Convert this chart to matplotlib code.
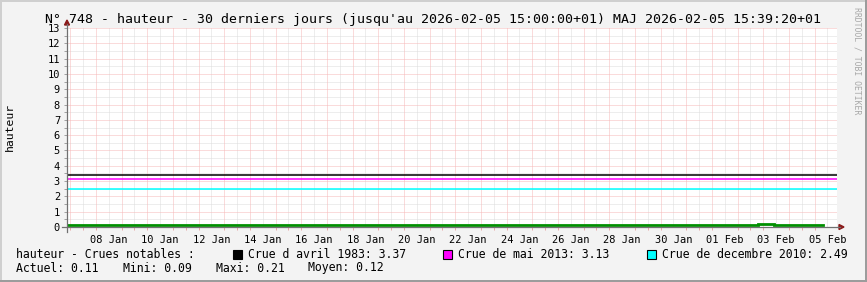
import matplotlib
matplotlib.use("Agg")
import matplotlib.pyplot as plt
import matplotlib.dates as mdates
from matplotlib.patches import Rectangle, Polygon
from matplotlib.lines import Line2D
import numpy as np
import pandas as pd

# ---------------- data ----------------
title = "N° 748 - hauteur - 30 derniers jours (jusqu'au 2026-02-05 15:00:00+01) MAJ 2026-02-05 15:39:20+01"
x_start = "2026-01-06 09:00"
x_end = "2026-02-05 09:00"

hauteur_times = ["2026-01-06 09:00", "2026-01-21 02:00", "2026-01-27 22:40",
                 "2026-01-28 04:10", "2026-01-28 06:20", "2026-01-28 10:10",
                 "2026-02-02 02:45", "2026-02-02 07:20", "2026-02-02 22:30",
                 "2026-02-04 12:00"]
hauteur_values = [0.13, 0.10, 0.12, 0.10, 0.12, 0.10, 0.15, 0.21, 0.12, 0.11]
hauteur_end = "2026-02-04 19:50"

crue_names = ["Crue d avril 1983", "Crue de mai 2013", "Crue de decembre 2010"]
crue_values = [3.37, 3.13, 2.49]
crue_colors = ["#000000", "#FF00FF", "#00FFFF"]

stats_names = ["Actuel", "Mini", "Maxi", "Moyen"]
stats_values = [0.11, 0.09, 0.21, 0.12]

tick_dates = ["2026-01-08", "2026-01-10", "2026-01-12", "2026-01-14", "2026-01-16",
              "2026-01-18", "2026-01-20", "2026-01-22", "2026-01-24", "2026-01-26",
              "2026-01-28", "2026-01-30", "2026-02-01", "2026-02-03", "2026-02-05"]
tick_labels = ["08 Jan", "10 Jan", "12 Jan", "14 Jan", "16 Jan", "18 Jan", "20 Jan",
               "22 Jan", "24 Jan", "26 Jan", "28 Jan", "30 Jan", "01 Feb", "03 Feb", "05 Feb"]
y_max = 13

# ---------------- layout ----------------
W, H = 867, 282
MONO = "DejaVu Sans Mono"
plt.rcParams["font.family"] = [MONO, "DejaVu Sans"]

fig = plt.figure(figsize=(W / 100, H / 100), dpi=100, facecolor="#F3F3F3")
L, R, T, B = 67, 837, 28, 227


def fx(x):
    return x / W


def fy(y):
    return 1 - y / H


ax = fig.add_axes([fx(L), fy(B), (R - L) / W, (B - T) / H])
ax.set_facecolor("white")
for s in ax.spines.values():
    s.set_visible(False)

xs = pd.Timestamp(x_start)
xe = pd.Timestamp(x_end)
ax.set_xlim(xs, xe)
ax.set_ylim(0, y_max)

# grid
dot = (0, (1, 1))
RED_GRID = "#F7B8B8"
GREY_GRID = "#DCDCDC"
for d in pd.date_range(xs.floor("12h"), xe, freq="12h"):
    if d < xs or d > xe:
        continue
    if d.hour == 12:
        ax.axvline(d, color=RED_GRID, lw=0.72, ls=dot, zorder=1.5)
    else:
        ax.axvline(d, color=GREY_GRID, lw=0.72, ls=dot, zorder=1)
for v in np.arange(0.5, y_max + 0.01, 0.5):
    if float(v).is_integer():
        ax.axhline(v, color=RED_GRID, lw=0.72, ls=dot, zorder=1.5)
    else:
        ax.axhline(v, color=GREY_GRID, lw=0.72, ls=dot, zorder=1)

# threshold lines
for val, col in zip(crue_values, crue_colors):
    ax.axhline(val, color=col, lw=1.1, zorder=3)

# data
t = pd.to_datetime(hauteur_times + [hauteur_end])
v = hauteur_values + [hauteur_values[-1]]
ax.step(t, v, where="post", color="#008F00", lw=2.0, zorder=4, solid_joinstyle="miter")

# ticks
ax.set_xticks(pd.to_datetime(tick_dates))
ax.set_xticklabels(tick_labels)
ax.xaxis.set_minor_locator(mdates.HourLocator(byhour=[0, 12]))
ax.tick_params(axis="x", which="major", length=0, pad=6, labelsize=7.5, colors="#000000")
ax.tick_params(axis="x", which="minor", length=2, width=0.7, color="#E8A8A8")
ax.set_yticks(range(0, y_max + 1))
ax.set_yticks(np.arange(0.5, y_max, 1.0), minor=True)
ax.tick_params(axis="y", which="major", length=2, width=0.7, color="#A0A0A0", pad=3, labelsize=7.5)
ax.tick_params(axis="y", which="minor", length=2, width=0.7, color="#A0A0A0")

# axes lines with arrows
fig.add_artist(Line2D([fx(62), fx(840)], [fy(227), fy(227)], color="#707070", lw=0.9))
fig.add_artist(Line2D([fx(67), fx(67)], [fy(232), fy(24)], color="#707070", lw=0.9))
fig.add_artist(Polygon([(fx(839), fy(224.5)), (fx(839), fy(229.5)), (fx(844), fy(227))],
                       closed=True, color="#8B1A1A", transform=fig.transFigure))
fig.add_artist(Polygon([(fx(64.5), fy(25)), (fx(69.5), fy(25)), (fx(67), fy(20))],
                       closed=True, color="#8B1A1A", transform=fig.transFigure))

# texts
fig.text(fx(433), fy(19), title, ha="center", va="center", fontsize=9.5, family=MONO)
fig.text(fx(10), fy(127), "hauteur", rotation=90, ha="center", va="center", fontsize=8.2, family=MONO)
fig.text(fx(857), fy(61), "RRDTOOL / TOBI OETIKER", rotation=270, ha="center", va="center",
         fontsize=5.9, color="#A8A8A8", family=MONO)

# legend row 1
fig.text(fx(16), fy(254), "hauteur - Crues notables :", ha="left", va="center", fontsize=8.3, family=MONO)
sq_x = [233, 443, 647]
for xpos, name, val, col in zip(sq_x, crue_names, crue_values, crue_colors):
    fig.add_artist(Rectangle((fx(xpos), fy(258.5)), 9 / W, 9 / H, facecolor=col,
                             edgecolor="#000000", lw=0.8, transform=fig.transFigure))
    fig.text(fx(xpos + 15), fy(254), f"{name}: {val:.2f}", ha="left", va="center",
             fontsize=8.3, family=MONO)

# legend row 2
st_x = [16, 123, 216, 308]
for xpos, name, val in zip(st_x, stats_names, stats_values):
    fig.text(fx(xpos), fy(268), f"{name}: {val:.2f}", ha="left", va="center", fontsize=8.3, family=MONO)

# outer frame
fig.add_artist(Rectangle((0, fy(2)), 1, 2 / H, facecolor="#CFCFCF", edgecolor="none", transform=fig.transFigure))
fig.add_artist(Rectangle((0, 0), 2 / W, 1, facecolor="#CFCFCF", edgecolor="none", transform=fig.transFigure))
fig.add_artist(Rectangle((0, 0), 1, 2 / H, facecolor="#9C9C9C", edgecolor="none", transform=fig.transFigure))
fig.add_artist(Rectangle((fx(W - 2), 0), 2 / W, 1, facecolor="#9C9C9C", edgecolor="none", transform=fig.transFigure))

fig.savefig("out.png", dpi=100, facecolor=fig.get_facecolor())
